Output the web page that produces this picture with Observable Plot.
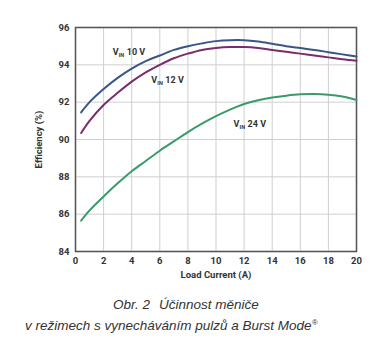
<!DOCTYPE html>
<html><head><meta charset="utf-8">
<script src="https://cdn.jsdelivr.net/npm/d3@7"></script>
<script src="https://cdn.jsdelivr.net/npm/@observablehq/plot@0.6"></script>
<style>
body{margin:0;background:#fff;width:389px;height:340px;overflow:hidden;position:relative}
.cap{position:absolute;font-family:"Liberation Sans",Arial,sans-serif;font-style:italic;font-size:13.5px;color:#333;white-space:nowrap;line-height:16px}
</style></head><body>
<div id="chart"></div>
<div class="cap" style="left:113px;top:297px">Obr. 2<span style="display:inline-block;width:9px"></span>Účinnost měniče</div>
<div class="cap" style="left:25px;top:315px">v režimech s vynecháváním pulzů a Burst Mode<span style="font-size:8px;vertical-align:5px">®</span></div>
<script>
const xs10 = [0.4,1,2,3,4,5,6,7,8,9,10,11,12,13,14,15,16,17,18,19,20];
const vin10 = [91.45,92.0,92.7,93.3,93.8,94.2,94.5,94.8,95.0,95.15,95.27,95.32,95.32,95.25,95.13,95.0,94.9,94.8,94.68,94.56,94.45];
const vin12 = [90.35,91.0,91.85,92.5,93.1,93.6,94.0,94.35,94.6,94.8,94.9,94.95,94.95,94.9,94.8,94.7,94.6,94.5,94.4,94.3,94.22];
const vin24 = [85.65,86.2,86.95,87.65,88.3,88.85,89.4,89.9,90.4,90.85,91.25,91.6,91.9,92.1,92.25,92.35,92.42,92.44,92.4,92.3,92.12];
const seriesNames = ["10 V","12 V","24 V"];
const seriesColors = ["#3a5687","#7c2b6c","#3b9a6b"];
const labelX = [2.65,5.4,11.25];
const labelY = [94.7,93.2,90.8];
const xTicks = [0,2,4,6,8,10,12,14,16,18,20];
const yTicks = [84,86,88,90,92,94,96];

const vals = [vin10,vin12,vin24];
const data = [];
seriesNames.forEach((s,i)=>xs10.forEach((x,j)=>data.push({s,x,y:vals[i][j]})));
const labels = seriesNames.map((s,i)=>({s,x:labelX[i],y:labelY[i]}));
const font = "Roboto, 'DejaVu Sans', sans-serif";

const chart = Plot.plot({
  width:389, height:285,
  marginLeft:75, marginRight:33, marginTop:27, marginBottom:34,
  style:{fontFamily:font, fontSize:"9.5px", fontWeight:"bold", color:"#333", background:"#fff"},
  x:{domain:[0,20], ticks:xTicks, label:"Load Current (A)", labelAnchor:"center", labelArrow:"none", labelOffset:26, tickSize:0, tickPadding:6},
  y:{domain:[84,96], ticks:yTicks, label:"Efficiency (%)", labelAnchor:"center", labelArrow:"none", labelOffset:40, tickSize:0, tickPadding:6},
  color:{domain:seriesNames, range:seriesColors},
  marks:[
    Plot.frame({stroke:"#555", strokeWidth:1.3, fill:"none"}),
    Plot.ruleX(xTicks,{x:d=>d, stroke:"#cfcfcf", strokeOpacity:1, strokeWidth:1}),
    Plot.ruleY(yTicks,{y:d=>d, stroke:"#cfcfcf", strokeOpacity:1, strokeWidth:1}),
    Plot.frame({stroke:"#555", strokeWidth:1.3, fill:"none"}),
    Plot.line(data,{x:"x", y:"y", stroke:"s", z:"s", strokeWidth:2, curve:"catmull-rom"}),
    Plot.text(labels,{x:"x", y:"y", text:()=>"V", textAnchor:"start", fontSize:9, fontWeight:"bold", fill:"#333"}),
    Plot.text(labels,{x:"x", y:"y", text:()=>"IN", textAnchor:"start", fontSize:5.5, fontWeight:"bold", dx:6, dy:3, fill:"#333"}),
    Plot.text(labels,{x:"x", y:"y", text:"s", textAnchor:"start", fontSize:9, fontWeight:"bold", dx:14, fill:"#333"})
  ]
});
document.getElementById("chart").appendChild(chart);
</script>
</body></html>
